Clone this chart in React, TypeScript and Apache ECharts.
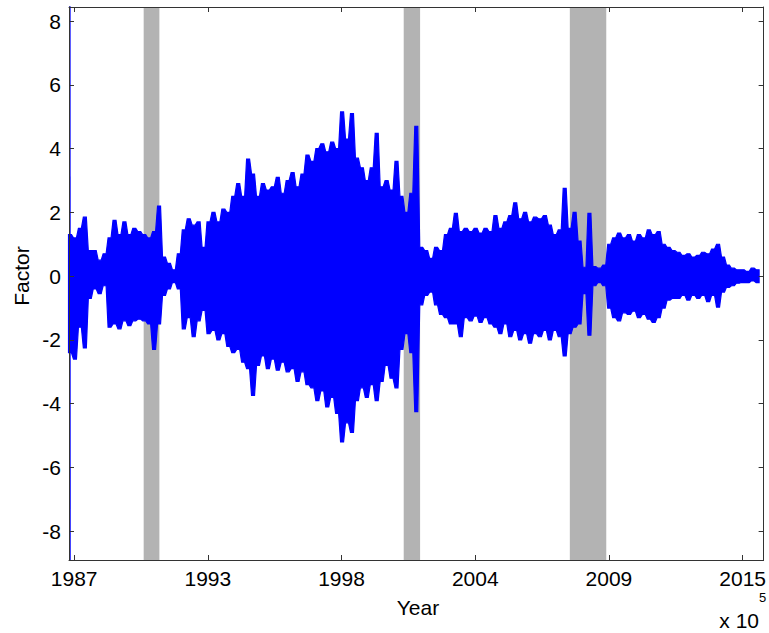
import React, { useEffect, useRef } from "react";
import * as echarts from "echarts";

// x values are MATLAB datenums (days); ticks are labelled by year
const startDay = 725938;
const stepDays = 74;

const upperEnvelope = [
  1.3, 1.2, 1.5, 1.85, 0.8, 0.8, 0.5, 0.7, 1.2, 1.75,
  1.3, 1.7, 1.3, 1.5, 1.4, 1.3, 1.2, 1.4, 2.2, 0.6,
  0.4, 0.2, 0.7, 1.45, 1.8, 1.6, 1.7, 0.9, 1.7, 2.0,
  1.7, 2.1, 2.0, 2.5, 2.9, 2.5, 3.67, 3.2, 2.5, 2.9,
  2.7, 2.8, 3.1, 2.6, 3.0, 3.25, 2.8, 3.2, 3.8, 3.6,
  4.0, 4.15, 3.9, 4.2, 4.0, 5.15, 4.3, 5.1, 3.7, 3.4,
  3.0, 3.4, 4.48, 2.8, 3.0, 2.7, 3.6, 2.5, 2.0, 2.6,
  4.7, 0.9, 0.8, 0.56, 0.9, 0.8, 1.3, 1.5, 1.97, 1.4,
  1.5, 1.4, 1.5, 1.35, 1.5, 1.4, 1.9, 1.5, 1.7, 1.9,
  2.3, 1.8, 2.0, 1.7, 1.85, 1.8, 1.9, 1.6, 1.3, 1.45,
  2.75, 1.5, 2.0, 1.1, 0.28, 1.97, 0.3, 0.25, 0.35, 1.0,
  1.2, 1.35, 1.2, 1.3, 1.1, 1.3, 1.2, 1.45, 1.3, 1.4,
  1.0, 0.9, 0.8, 0.75, 0.65, 0.7, 0.6, 0.65, 0.75, 0.7,
  0.85, 1.0, 0.6, 0.35, 0.25, 0.2, 0.2, 0.15, 0.25, 0.2,
];

const lowerEnvelope = [
  -2.4, -2.6, -1.6, -2.25, -0.7, -0.4, -0.55, -0.3, -1.6, -1.5,
  -1.65, -1.4, -1.55, -1.4, -1.35, -1.4, -1.5, -2.3, -1.5, -0.6,
  -0.4, -0.2, -0.4, -1.65, -1.3, -1.9, -1.4, -1.07, -1.8, -1.7,
  -2.0, -1.8, -2.2, -2.4, -2.3, -2.7, -2.9, -3.74, -2.8, -2.5,
  -2.9, -2.6, -2.95, -2.7, -3.0, -2.9, -3.3, -3.0, -3.4, -3.5,
  -3.9, -3.6, -4.1, -3.8, -4.3, -5.2, -4.6, -4.9, -3.9, -3.5,
  -3.8, -3.4, -3.9, -3.3, -2.8, -3.2, -3.5, -2.3, -1.8, -2.4,
  -4.25, -0.9, -0.6, -0.5, -0.9, -1.2, -1.3, -1.5, -1.5, -1.9,
  -1.3, -1.4, -1.25, -1.45, -1.3, -1.5, -1.6, -1.8, -1.5, -1.9,
  -1.7, -2.0, -1.8, -2.1, -1.8, -1.9, -1.7, -2.0, -1.7, -1.9,
  -2.5, -1.8, -1.6, -1.5, -0.55, -1.85, -0.3, -0.2, -0.3, -1.0,
  -1.3, -1.4, -1.15, -1.2, -1.1, -1.3, -1.2, -1.35, -1.45, -1.3,
  -1.0, -0.75, -0.7, -0.7, -0.6, -0.75, -0.6, -0.7, -0.6, -0.8,
  -0.6, -0.97, -0.5, -0.35, -0.3, -0.22, -0.2, -0.2, -0.15, -0.2,
];

const initialSpikeDays = [725936, 725938];
const initialSpikeValues = [9.8, -9.8];

const recessionStart = [727040, 730930, 733415];
const recessionEnd = [727275, 731175, 733960];

const xTickValues = [726000, 728000, 730000, 732000, 734000, 736000];
const xTickLabels = ["1987", "1993", "1998", "2004", "2009", "2015"];
const yTickValues = [-8, -6, -4, -2, 0, 2, 4, 6, 8];

const xMin = 725923;
const xMax = 736314;
const yMin = -8.9;
const yMax = 8.44;

const FONT = "'Liberation Sans', Arial, Helvetica, sans-serif";
const AXIS_COLOR = "#333333";
const BLUE = "#0000ff";

export default function App() {
  const ref = useRef<HTMLDivElement>(null);

  useEffect(() => {
    if (!ref.current) return;
    const chart = echarts.init(ref.current, null, { renderer: "svg" });

    const axisLine = { show: true, onZero: false, lineStyle: { color: AXIS_COLOR, width: 1 } };
    const xTick = {
      show: true,
      inside: true,
      length: 5,
      customValues: xTickValues,
      lineStyle: { color: AXIS_COLOR, width: 1 },
    };
    const yTick = {
      show: true,
      inside: true,
      length: 5,
      customValues: yTickValues,
      lineStyle: { color: AXIS_COLOR, width: 1 },
    };

    const option: any = {
      animation: false,
      backgroundColor: "#ffffff",
      grid: { left: 69, right: 1, top: 7, bottom: 73, containLabel: false },
      xAxis: [
        {
          type: "value",
          position: "bottom",
          min: xMin,
          max: xMax,
          axisLine,
          axisTick: xTick,
          axisLabel: {
            customValues: xTickValues,
            formatter: (v: number) => {
              const i = xTickValues.indexOf(v);
              return i >= 0 ? xTickLabels[i] : "";
            },
            color: "#000",
            fontSize: 21,
            fontFamily: FONT,
            margin: 8,
          },
          splitLine: { show: false },
          z: 10,
        },
        {
          type: "value",
          position: "top",
          min: xMin,
          max: xMax,
          axisLine,
          axisTick: xTick,
          axisLabel: { show: false },
          splitLine: { show: false },
          z: 10,
        },
      ],
      yAxis: [
        {
          type: "value",
          position: "left",
          min: yMin,
          max: yMax,
          axisLine,
          axisTick: yTick,
          axisLabel: {
            customValues: yTickValues,
            formatter: (v: number) => String(v),
            color: "#000",
            fontSize: 21,
            fontFamily: FONT,
            margin: 8,
          },
          splitLine: { show: false },
          z: 10,
        },
        {
          type: "value",
          position: "right",
          min: yMin,
          max: yMax,
          axisLine,
          axisTick: yTick,
          axisLabel: { show: false },
          splitLine: { show: false },
          z: 10,
        },
      ],
      series: [
        {
          type: "custom",
          name: "recessions",
          coordinateSystem: "cartesian2d",
          xAxisIndex: 0,
          yAxisIndex: 0,
          silent: true,
          z: 1,
          data: recessionStart.map((s, i) => [s, recessionEnd[i], 0]),
          encode: { x: [0, 1], y: 2 },
          renderItem: (params: any, api: any) => {
            const s = api.coord([api.value(0), 0]);
            const e = api.coord([api.value(1), 0]);
            const cs = params.coordSys;
            return {
              type: "rect",
              shape: { x: s[0], y: cs.y, width: e[0] - s[0], height: cs.height },
              style: { fill: "#b3b3b3" },
            };
          },
        },
        {
          type: "custom",
          name: "factor",
          coordinateSystem: "cartesian2d",
          xAxisIndex: 0,
          yAxisIndex: 0,
          silent: true,
          z: 3,
          data: [[startDay, 0]],
          renderItem: (params: any, api: any) => {
            if (params.dataIndex !== 0) return null;
            const half = stepDays * 0.3;
            const top: number[][] = [];
            upperEnvelope.forEach((v, i) => {
              const d = startDay + i * stepDays;
              top.push(api.coord([d - half, v]));
              top.push(api.coord([d + half, v]));
            });
            const bottom: number[][] = [];
            lowerEnvelope.forEach((v, i) => {
              const d = startDay + i * stepDays;
              bottom.push(api.coord([d - half, v]));
              bottom.push(api.coord([d + half, v]));
            });
            bottom.reverse();
            return {
              type: "polygon",
              shape: { points: top.concat(bottom) },
              style: { fill: BLUE, stroke: BLUE, lineWidth: 1.2, lineJoin: "miter" },
            };
          },
        },
        {
          type: "line",
          name: "start",
          xAxisIndex: 0,
          yAxisIndex: 0,
          silent: true,
          z: 3,
          showSymbol: false,
          symbol: "none",
          clip: true,
          data: initialSpikeDays.map((d, i) => [d, initialSpikeValues[i]]),
          lineStyle: { color: BLUE, width: 1.5 },
        },
      ],
      graphic: [
        {
          type: "text",
          x: 418,
          y: 607,
          style: {
            text: "Year",
            fill: "#000",
            font: `21px ${FONT}`,
            textAlign: "center",
            textVerticalAlign: "middle",
            align: "center",
            verticalAlign: "middle",
          },
        },
        {
          type: "text",
          x: 21,
          y: 276,
          rotation: Math.PI / 2,
          style: {
            text: "Factor",
            fill: "#000",
            font: `21px ${FONT}`,
            textAlign: "center",
            textVerticalAlign: "middle",
            align: "center",
            verticalAlign: "middle",
          },
        },
        {
          type: "text",
          x: 759,
          y: 620,
          style: {
            text: "x 10",
            fill: "#000",
            font: `21px ${FONT}`,
            textAlign: "right",
            textVerticalAlign: "middle",
            align: "right",
            verticalAlign: "middle",
          },
        },
        {
          type: "text",
          x: 759,
          y: 597,
          style: {
            text: "5",
            fill: "#000",
            font: `13px ${FONT}`,
            textAlign: "left",
            textVerticalAlign: "middle",
            align: "left",
            verticalAlign: "middle",
          },
        },
      ],
    };

    chart.setOption(option);
    return () => chart.dispose();
  }, []);

  return (
    <div
      ref={ref}
      style={{ position: "fixed", left: 0, top: 0, width: 769, height: 633, background: "#fff" }}
    />
  );
}
